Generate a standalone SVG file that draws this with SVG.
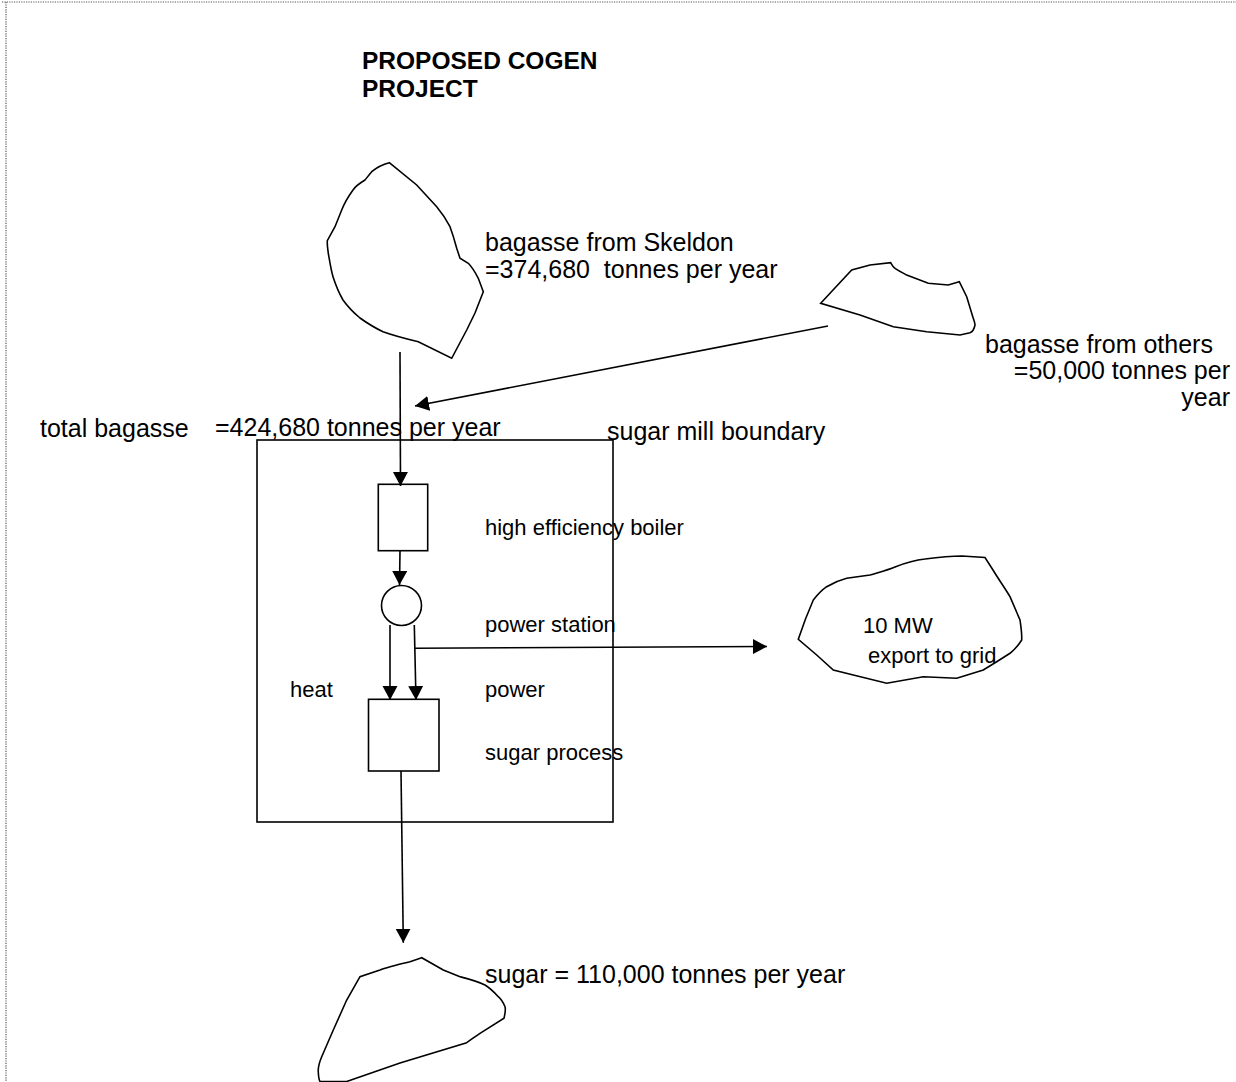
<svg xmlns="http://www.w3.org/2000/svg" width="1236" height="1082" viewBox="0 0 1236 1082">
<style>
.t{font-family:"Liberation Sans",Arial,sans-serif;font-size:25px;fill:#000}
.s{font-family:"Liberation Sans",Arial,sans-serif;font-size:22px;fill:#000}
.b{font-family:"Liberation Sans",Arial,sans-serif;font-size:24.5px;font-weight:bold;fill:#000}
.shape{fill:none;stroke:#000;stroke-width:1.6}
.c{fill:none;stroke:#000;stroke-width:1.6;marker-end:url(#ah)}
.border{fill:none;stroke:#555;stroke-width:1.2;stroke-dasharray:1.2,1.2}
</style>
<defs>
<marker id="ah" markerUnits="userSpaceOnUse" markerWidth="16" markerHeight="16" refX="14" refY="7.5" orient="auto">
<path d="M0,0 L14,7.5 L0,15 z" fill="#000"/>
</marker>
</defs>
<rect width="1236" height="1082" fill="#fff"/>
<g id="border">
<line class="border" x1="2" y1="2" x2="1236" y2="2"/>
<line class="border" x1="6" y1="2" x2="6" y2="1082"/>
</g>
<g id="title">
<text class="b" x="362" y="69">PROPOSED COGEN</text>
<text class="b" x="362" y="96.5">PROJECT</text>
</g>
<g id="skeldon">
<path class="shape" d="M389.3,162.7 C384,164 376,168 371.7,171.7 C368,176 366,179 365,180 C360,183 355,187 353,190 C348,197 344,204 341.7,210 L335,226.7 L327.3,240.7 C327,246 328,250 328.3,253.3 C330,263 331,270 333,276.7 C336,286 339,293 343,300 C348,307 354,313 360,318 C367,323 375,328 383,331.7 C395,336 407,339 418.3,341.7 L451.7,358.3 L466.7,330 L475,313 L483.3,291.7 L478.3,278.3 C475,272 471,266 468.3,263.3 L460,258.3 L456.7,248.3 C454,238 452,232 450,226.7 C446,219 442,213 436.7,206.7 L416.7,185 Z"/>
<text class="t" x="485" y="251">bagasse from Skeldon</text>
<text class="t" x="485" y="278">=374,680&#160; tonnes per year</text>
</g>
<g id="others">
<path class="shape" d="M820.7,303.3 L851.7,270 L870,265 L890.7,262.7 C892,265 893,267 895,268.3 C899,271 903,273 906.7,275 L928.3,283.3 L948.3,285 L959.3,281.7 L966.7,296.7 L971.7,313.3 C973,318 975,322 975,325 C974,330 972,332 970,332.7 L960,335 L926.7,331.7 L893.3,326.7 L860,315 Z"/>
<text class="t" x="985" y="353">bagasse from others</text>
<text class="t" x="1230" y="379" text-anchor="end">=50,000 tonnes per</text>
<text class="t" x="1230" y="406" text-anchor="end">year</text>
</g>
<g id="total">
<text class="t" x="40" y="437">total bagasse</text>
<text class="t" x="215" y="436">=424,680 tonnes per year</text>
</g>
<g id="boundary">
<rect class="shape" x="257" y="440" width="356" height="382"/>
<text class="t" x="607" y="440">sugar mill boundary</text>
</g>
<g id="boiler">
<rect class="shape" x="378.3" y="484.3" width="49.4" height="66.4"/>
<text class="s" x="485" y="535">high efficiency boiler</text>
</g>
<g id="powerstation">
<circle class="shape" cx="401.5" cy="605.5" r="20"/>
<text class="s" x="485" y="632">power station</text>
</g>
<g id="labels">
<text class="s" x="290" y="697">heat</text>
<text class="s" x="485" y="697">power</text>
</g>
<g id="process">
<rect class="shape" x="368.5" y="699.3" width="70.5" height="71.7"/>
<text class="s" x="485" y="760">sugar process</text>
</g>
<g id="grid">
<path class="shape" d="M798.3,639.3 C803,625 808,612 813.3,600 C818,594 822,590 826.7,586.7 C833,583 840,580 846.7,578.3 L870,575 C880,572 888,570 895,567 C905,563 915,560 925,559 C940,557 950,556 962,556 L985,557.5 L993,570 C999,580 1005,588 1010,596.7 L1020,620 C1021,627 1022,633 1021.7,640 C1018,646 1014,650 1010,653.3 L996.7,661.7 L983.3,670 L956.7,678.3 L923.3,676.7 L886.7,683.3 L853.3,675 L833.3,670 L816.7,655 Z"/>
<text class="s" x="863" y="633">10 MW</text>
<text class="s" x="868" y="663">export to grid</text>
</g>
<g id="sugar">
<path class="shape" d="M421.7,957.7 L410,961.7 C404,963 400,964 396.7,965 C390,967 385,968 380,970 L360,976.7 L346.7,1000 L333.3,1030 L321.7,1056.7 C319,1063 318,1068 318.3,1072 C318.5,1077 319,1080 320,1081.5 L346.7,1081.5 L400,1063 L466.7,1042.7 C472,1039 476,1036 480,1033.3 L504,1018.3 C505,1014 506,1010 505,1006.7 C503,1002 501,999 498.3,996.7 C494,992 490,988 485,985 C477,981 469,979 460,976.7 L443.3,970 Z"/>
<text class="t" x="485" y="983">sugar = 110,000 tonnes per year</text>
</g>
<g id="connectors">
<line class="c" x1="400" y1="352" x2="400.5" y2="486"/>
<line class="c" x1="828" y1="326" x2="415" y2="406"/>
<line class="c" x1="400" y1="551" x2="399.5" y2="585"/>
<line class="c" x1="390" y1="625" x2="390" y2="700"/>
<line class="c" x1="414.3" y1="625" x2="416" y2="700"/>
<line class="c" x1="415" y1="648.3" x2="767" y2="646.5"/>
<line class="c" x1="401" y1="771" x2="403.3" y2="942.7"/>
</g>
</svg>
